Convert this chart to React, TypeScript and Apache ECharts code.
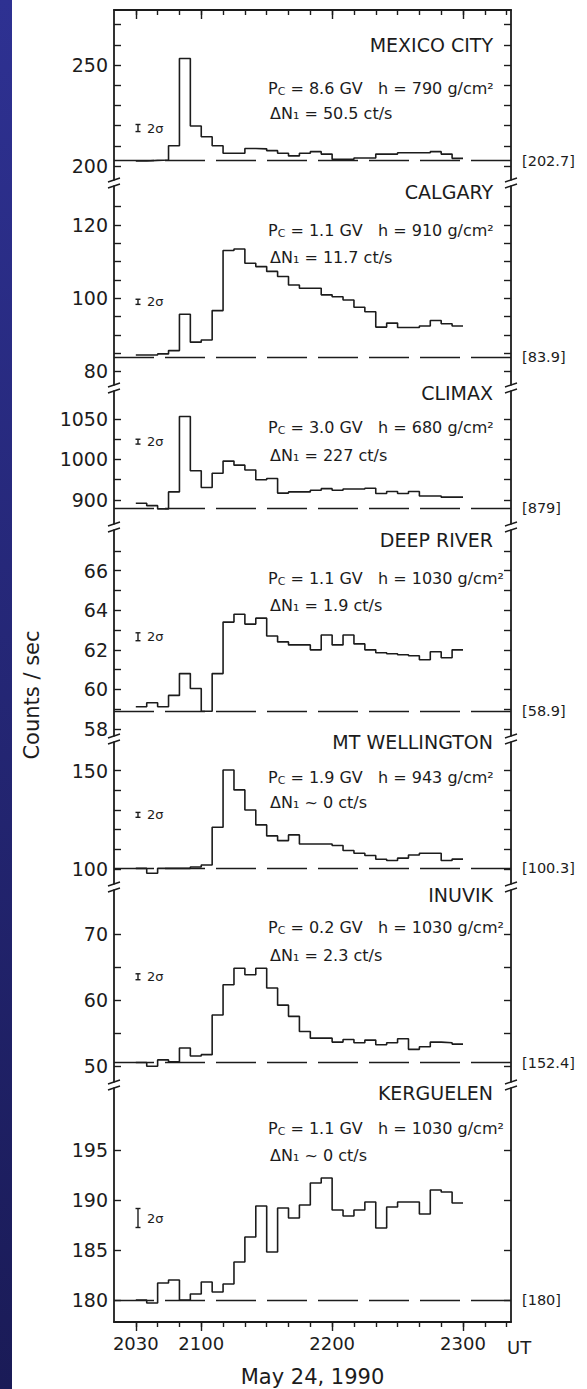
import React, { useEffect, useRef } from "react";
import * as echarts from "echarts";

// Time is expressed in minutes after 20:00 UT on 24 May 1990.
// Histogram bin edges (5-minute bins from 2030 to 2300 UT).
const binEdges = [
  30, 35, 40, 45, 50, 55, 60, 65, 70, 75, 80, 85, 90, 95, 100, 105,
  110, 115, 120, 125, 130, 135, 140, 145, 150, 155, 160, 165, 170, 175, 180,
];

const stationNames = [
  "MEXICO CITY",
  "CALGARY",
  "CLIMAX",
  "DEEP RIVER",
  "MT WELLINGTON",
  "INUVIK",
  "KERGUELEN",
];
const cutoffRigidity = ["8.6", "1.1", "3.0", "1.1", "1.9", "0.2", "1.1"];
const atmDepth = ["790", "910", "680", "1030", "943", "1030", "1030"];
const deltaN1 = ["= 50.5", "= 11.7", "= 227", "= 1.9", "~ 0", "= 2.3", "~ 0"];

// Pre-event baseline levels (dashed lines) and their bracketed annotations
const baselines = [202.7, 83.9, 879, 58.9, 100.3, 50.5, 180];
const baselineLabels = ["[202.7]", "[83.9]", "[879]", "[58.9]", "[100.3]", "[152.4]", "[180]"];

// 5-minute count rates (counts / sec), one value per bin
const mexicoCity = [
  202.5, 202.8, 203.0, 210.0, 253.2, 219.8, 214.5, 210.0, 206.3, 206.3,
  208.7, 208.5, 207.6, 206.3, 205.0, 206.3, 207.1, 205.9, 203.3, 203.3,
  204.0, 204.0, 205.9, 205.9, 206.6, 206.6, 206.6, 207.1, 205.9, 203.8,
];
const calgary = [
  84.5, 84.5, 84.8, 85.7, 95.6, 88.0, 88.6, 96.6, 113.0, 113.4,
  109.5, 108.6, 107.3, 105.9, 103.6, 102.7, 102.7, 100.9, 100.4, 99.5,
  97.5, 96.3, 92.1, 93.2, 92.0, 92.0, 92.4, 93.9, 93.0, 92.4,
];
const climax = [
  892, 886, 878, 920, 1106, 972, 931, 966, 996, 986,
  974, 950, 953, 917, 920, 920, 924, 928, 924, 927,
  927, 929, 916, 921, 916, 921, 910, 910, 907, 907,
];
const deepRiver = [
  59.13, 59.33, 59.13, 59.7, 60.8, 60.05, 58.9, 60.8, 63.4, 63.8,
  63.3, 63.6, 62.7, 62.4, 62.25, 62.25, 62.0, 62.75, 62.25, 62.75,
  62.3, 62.0, 61.85, 61.8, 61.75, 61.7, 61.5, 61.9, 61.6, 62.0,
];
const mtWellington = [
  100.3, 97.8, 100.3, 100.3, 100.3, 101.0, 102.0, 121.2, 150.3, 140.2,
  130.0, 122.4, 116.8, 114.4, 117.3, 112.7, 112.7, 112.7, 111.9, 109.4,
  108.0, 106.8, 104.9, 104.3, 105.5, 107.1, 108.0, 108.0, 104.3, 105.0,
];
const inuvik = [
  50.5, 49.95, 50.9, 50.6, 52.7, 51.5, 51.7, 57.7, 62.3, 64.8,
  63.8, 64.8, 61.8, 59.2, 57.5, 55.2, 54.2, 54.2, 53.6, 54.0,
  53.5, 53.9, 53.2, 53.5, 54.1, 52.5, 52.9, 53.6, 53.5, 53.3,
];
const kerguelen = [
  180.0, 179.7, 181.7, 182.0, 180.0, 180.6, 181.8, 180.8, 181.6, 183.8,
  186.3, 189.4, 184.8, 189.2, 188.2, 189.5, 191.7, 192.2, 189.0, 188.4,
  189.0, 189.8, 187.2, 189.3, 189.8, 189.8, 188.6, 191.0, 190.8, 189.7,
];
const stationCounts = [mexicoCity, calgary, climax, deepRiver, mtWellington, inuvik, kerguelen];

// 2-sigma statistical error bars: [time, centre value, full height]
const errorBars = [
  [31, 218.8, 3.5],
  [31, 99.0, 1.4],
  [31, 1044, 12],
  [31, 62.66, 0.4],
  [31, 127.5, 2.5],
  [31, 63.5, 0.9],
  [31, 188.2, 1.9],
];

// Axis ticks and labels
const yTickValues = [
  [200, 210, 220, 230, 240, 250, 260, 270],
  [80, 85, 90, 95, 100, 105, 110, 115, 120, 125],
  [900, 950, 1000, 1050, 1100],
  [58, 59, 60, 61, 62, 63, 64, 65, 66, 67],
  [100, 110, 120, 130, 140, 150],
  [50, 55, 60, 65, 70],
  [180, 185, 190, 195],
];
const yLabelValues = [
  [200, 250],
  [80, 100, 120],
  [900, 1000, 1100],
  [58, 60, 62, 64, 66],
  [100, 150],
  [50, 60, 70],
  [180, 185, 190, 195],
];
const yLabelTexts = [
  ["200", "250"],
  ["80", "100", "120"],
  ["900", "1000", "1050"],
  ["58", "60", "62", "64", "66"],
  ["100", "150"],
  ["50", "60", "70"],
  ["180", "185", "190", "195"],
];
const minorTimeTicks = [30, 40, 50, 60, 70, 80, 90, 100, 110, 120, 130, 140, 150, 160, 170, 180, 190, 200];
const majorTimeTicks = [30, 60, 120, 180];

// Layout of the stacked panels (pixels) and each panel's value window
const panelTop = [10, 183, 388, 527, 739, 887, 1085];
const panelHeight = [173, 205, 139, 212, 148, 198, 237];
const yMin = [191.6, 75.5, 833.3, 57.5, 90.8, 47.1, 177.8];
const yMax = [277.2, 131.4, 1176.5, 68.2, 166.1, 77.1, 201.5];
const nameY = [45, 192, 393, 540, 742, 895, 1093];
const pcY = [88, 230, 427, 578, 777, 927, 1128];
const dnY = [113, 257, 455, 605, 802, 955, 1155];

const PLOT_LEFT = 114;
const PLOT_WIDTH = 397;
const FONT = "'DejaVu Sans', 'Liberation Sans', sans-serif";
const INK = "#1c1c1c";

const fmtTime = (v: number) => {
  const h = 20 + Math.floor(v / 60);
  const m = v % 60;
  return `${h}${String(m).padStart(2, "0")}`;
};

function buildOption() {
  const grid: any[] = [];
  const xAxis: any[] = [];
  const yAxis: any[] = [];
  const series: any[] = [];
  const graphic: any[] = [];

  // dark blue strip along the left edge
  graphic.push({
    type: "rect",
    shape: { x: 0, y: 0, width: 12, height: 1389 },
    style: {
      fill: new echarts.graphic.LinearGradient(0, 0, 0, 1, [
        { offset: 0, color: "#2e3192" },
        { offset: 1, color: "#1a1b57" },
      ]),
    },
    z: 100,
  });

  for (let i = 0; i < stationNames.length; i++) {
    const isTop = i === 0;
    const isBottom = i === stationNames.length - 1;
    const showX = isTop || isBottom;

    grid.push({ left: PLOT_LEFT, width: PLOT_WIDTH, top: panelTop[i], height: panelHeight[i] });

    const xCommon = {
      type: "value",
      gridIndex: i,
      min: 20,
      max: 202,
      position: isTop ? "top" : "bottom",
      splitLine: { show: false },
      show: showX,
    };
    xAxis.push({
      ...xCommon,
      axisLine: { show: showX, onZero: false, lineStyle: { color: INK, width: 1.8 } },
      axisTick: { show: true, inside: isTop, length: 5, customValues: minorTimeTicks, lineStyle: { color: INK, width: 1.4 } },
      axisLabel: { show: false },
    });
    xAxis.push({
      ...xCommon,
      axisLine: { show: false, onZero: false },
      axisTick: { show: true, inside: isTop, length: 9, customValues: majorTimeTicks, lineStyle: { color: INK, width: 1.4 } },
      axisLabel: {
        show: isBottom,
        customValues: majorTimeTicks,
        formatter: fmtTime,
        fontSize: 18,
        fontFamily: FONT,
        color: INK,
        margin: 12,
      },
      name: isBottom ? "May 24, 1990" : "",
      nameLocation: "middle",
      nameGap: 44,
      nameTextStyle: { fontSize: 21, fontFamily: FONT, color: INK },
    });

    const labelMap: Record<string, string> = {};
    yLabelValues[i].forEach((v, k) => (labelMap[String(v)] = yLabelTexts[i][k]));
    const yCommon = {
      type: "value",
      gridIndex: i,
      min: yMin[i],
      max: yMax[i],
      splitLine: { show: false },
      axisLine: { show: true, lineStyle: { color: INK, width: 1.8 } },
      axisTick: { show: true, inside: true, length: 7, customValues: yTickValues[i], lineStyle: { color: INK, width: 1.4 } },
    };
    yAxis.push({
      ...yCommon,
      position: "left",
      axisLabel: {
        customValues: yLabelValues[i],
        formatter: (v: number) => labelMap[String(v)] ?? "",
        fontSize: 19,
        fontFamily: FONT,
        color: INK,
        margin: 6,
      },
    });
    yAxis.push({ ...yCommon, position: "right", axisLabel: { show: false } });

    const counts = stationCounts[i];
    const stepData = binEdges.map((t, k) => [t, counts[Math.min(k, counts.length - 1)]]);
    series.push({
      type: "line",
      xAxisIndex: 2 * i,
      yAxisIndex: 2 * i,
      data: stepData,
      step: "end",
      symbol: "none",
      silent: true,
      lineStyle: { color: INK, width: 1.6 },
      markLine: {
        silent: true,
        symbol: ["none", "none"],
        data: [{ yAxis: baselines[i] }],
        lineStyle: { type: [40, 11], color: INK, width: 1.3 },
        label: {
          show: true,
          position: "end",
          formatter: baselineLabels[i],
          distance: 11,
          fontSize: 14.5,
          fontFamily: FONT,
          color: INK,
        },
      },
    });

    series.push({
      type: "custom",
      xAxisIndex: 2 * i,
      yAxisIndex: 2 * i,
      silent: true,
      data: [errorBars[i]],
      renderItem: (_params: any, api: any) => {
        const t = api.value(0);
        const c = api.value(1);
        const h = api.value(2);
        const top = api.coord([t, c + h / 2]);
        const bot = api.coord([t, c - h / 2]);
        const mid = api.coord([t, c]);
        const ls = { stroke: INK, lineWidth: 1.4 };
        return {
          type: "group",
          children: [
            { type: "line", shape: { x1: top[0], y1: top[1], x2: bot[0], y2: bot[1] }, style: ls },
            { type: "line", shape: { x1: top[0] - 2.5, y1: top[1], x2: top[0] + 2.5, y2: top[1] }, style: ls },
            { type: "line", shape: { x1: bot[0] - 2.5, y1: bot[1], x2: bot[0] + 2.5, y2: bot[1] }, style: ls },
            {
              type: "text",
              x: mid[0] + 9,
              y: mid[1],
              style: {
                text: "2σ",
                fontSize: 13,
                fontFamily: FONT,
                fill: INK,
                align: "left",
                verticalAlign: "middle",
              },
            },
          ],
        };
      },
    });

    // station annotations
    graphic.push({
      type: "text",
      x: 493,
      y: nameY[i],
      z: 100,
      style: { text: stationNames[i], fontSize: 19, fontFamily: FONT, fill: INK, align: "right", verticalAlign: "middle" },
    });
    graphic.push({
      type: "text",
      x: 268,
      y: pcY[i],
      z: 100,
      style: {
        text: `P{c|C} = ${cutoffRigidity[i]} GV   h = ${atmDepth[i]} g/cm²`,
        fontSize: 16,
        fontFamily: FONT,
        fill: INK,
        align: "left",
        verticalAlign: "middle",
        rich: { c: { fontSize: 11, fontFamily: FONT, fill: INK, verticalAlign: "bottom", padding: [7, 0, 0, 0] } },
      },
    });
    graphic.push({
      type: "text",
      x: 270,
      y: dnY[i],
      z: 100,
      style: { text: `ΔN₁ ${deltaN1[i]} ct/s`, fontSize: 16, fontFamily: FONT, fill: INK, align: "left", verticalAlign: "middle" },
    });
  }

  // axis breaks between the stacked panels
  for (let i = 1; i < panelTop.length; i++) {
    const y = panelTop[i];
    [PLOT_LEFT, PLOT_LEFT + PLOT_WIDTH].forEach((x) => {
      graphic.push({ type: "rect", z: 100, shape: { x: x - 3, y: y - 2.5, width: 6, height: 5 }, style: { fill: "#ffffff" } });
      graphic.push({ type: "line", z: 101, shape: { x1: x - 6, y1: y - 1, x2: x + 6, y2: y - 5 }, style: { stroke: INK, lineWidth: 1.4 } });
      graphic.push({ type: "line", z: 101, shape: { x1: x - 6, y1: y + 5, x2: x + 6, y2: y + 1 }, style: { stroke: INK, lineWidth: 1.4 } });
    });
  }

  graphic.push({
    type: "text",
    x: 32,
    y: 695,
    rotation: Math.PI / 2,
    z: 100,
    style: { text: "Counts / sec", fontSize: 21, fontFamily: FONT, fill: INK, align: "center", verticalAlign: "middle" },
  });
  graphic.push({
    type: "text",
    x: 507,
    y: 1347,
    z: 100,
    style: { text: "UT", fontSize: 18, fontFamily: FONT, fill: INK, align: "left", verticalAlign: "middle" },
  });

  return {
    animation: false,
    backgroundColor: "#ffffff",
    grid,
    xAxis,
    yAxis,
    series,
    graphic,
  };
}

export default function App() {
  const ref = useRef<HTMLDivElement>(null);
  useEffect(() => {
    document.body.style.margin = "0";
    if (!ref.current) return;
    const chart = echarts.init(ref.current, undefined, { renderer: "svg" });
    chart.setOption(buildOption() as any);
    return () => chart.dispose();
  }, []);
  return <div ref={ref} style={{ position: "absolute", left: 0, top: 0, width: 587, height: 1389 }} />;
}
